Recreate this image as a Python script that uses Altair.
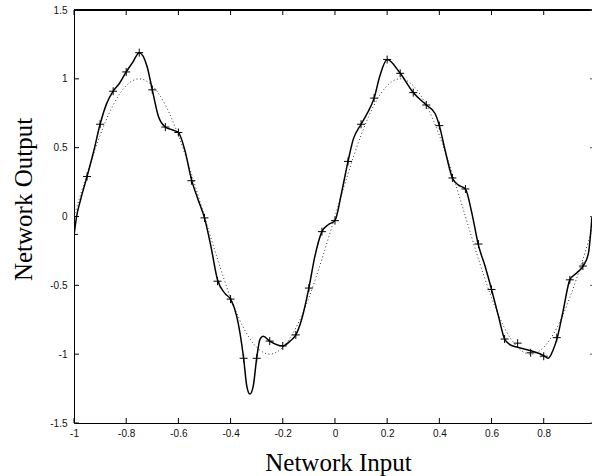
import altair as alt
import pandas as pd

# ---- data ----
# network output (solid curve)
net_x = [-1.0, -0.99, -0.975, -0.95, -0.925, -0.9, -0.875, -0.85, -0.825, -0.8,
         -0.775, -0.75, -0.72, -0.7, -0.677, -0.65, -0.625, -0.6, -0.575, -0.55,
         -0.524, -0.5, -0.475, -0.45, -0.421, -0.4, -0.377, -0.35, -0.338, -0.326,
         -0.313, -0.3, -0.287, -0.275, -0.25, -0.2, -0.172, -0.15, -0.128, -0.1,
         -0.077, -0.05, -0.026, 0.0, 0.025, 0.05, 0.07, 0.1, 0.121, 0.15,
         0.172, 0.2, 0.25, 0.3, 0.35, 0.383, 0.4, 0.421, 0.45, 0.472,
         0.5, 0.524, 0.55, 0.575, 0.6, 0.626, 0.65, 0.67, 0.7, 0.75,
         0.8, 0.817, 0.836, 0.852, 0.875, 0.9, 0.926, 0.951, 0.971, 0.985]
net_y = [-0.14, 0.0, 0.12, 0.29, 0.47, 0.67, 0.82, 0.91, 0.97, 1.05,
         1.12, 1.19, 1.09, 0.92, 0.73, 0.65, 0.63, 0.61, 0.48, 0.27,
         0.12, -0.01, -0.22, -0.46, -0.56, -0.60, -0.72, -1.03, -1.23, -1.29,
         -1.23, -1.03, -0.89, -0.87, -0.905, -0.94, -0.905, -0.86, -0.75, -0.52,
         -0.29, -0.11, -0.06, -0.03, 0.17, 0.40, 0.56, 0.67, 0.74, 0.86,
         1.02, 1.14, 1.04, 0.90, 0.81, 0.75, 0.66, 0.49, 0.28, 0.23,
         0.20, 0.03, -0.21, -0.36, -0.53, -0.72, -0.89, -0.93, -0.95, -0.975,
         -1.01, -1.03, -0.97, -0.88, -0.68, -0.46, -0.41, -0.36, -0.27, 0.0]

# training samples (+ markers)
pts_x = [-1.0, -0.95, -0.9, -0.85, -0.8, -0.75, -0.7, -0.65, -0.6, -0.55,
         -0.5, -0.45, -0.4, -0.35, -0.3, -0.25, -0.2, -0.15, -0.1, -0.05,
         0.0, 0.05, 0.1, 0.15, 0.2, 0.25, 0.3, 0.35, 0.4, 0.45,
         0.5, 0.55, 0.6, 0.65, 0.7, 0.75, 0.8, 0.85, 0.9, 0.95]
pts_y = [-0.13, 0.29, 0.67, 0.91, 1.05, 1.19, 0.92, 0.65, 0.61, 0.26,
         -0.01, -0.47, -0.60, -1.03, -1.03, -0.905, -0.94, -0.86, -0.52, -0.11,
         -0.03, 0.40, 0.67, 0.86, 1.14, 1.04, 0.90, 0.81, 0.66, 0.28,
         0.20, -0.20, -0.53, -0.89, -0.92, -0.99, -1.015, -0.88, -0.46, -0.36]

# target function (dotted curve)
tgt_x = [-1.0, -0.95, -0.9, -0.85, -0.8, -0.75, -0.7, -0.65, -0.6, -0.55,
         -0.5, -0.45, -0.4, -0.35, -0.3, -0.25, -0.2, -0.15, -0.1, -0.05,
         0.0, 0.05, 0.1, 0.15, 0.2, 0.25, 0.3, 0.35, 0.4, 0.45,
         0.5, 0.55, 0.6, 0.65, 0.7, 0.75, 0.8, 0.85, 0.9, 0.95, 1.0]
tgt_y = [0.0, 0.31, 0.59, 0.81, 0.95, 1.0, 0.95, 0.81, 0.59, 0.31,
         0.0, -0.31, -0.59, -0.81, -0.95, -1.0, -0.95, -0.81, -0.59, -0.31,
         0.0, 0.31, 0.59, 0.81, 0.95, 1.0, 0.95, 0.81, 0.59, 0.31,
         0.0, -0.31, -0.59, -0.81, -0.95, -1.0, -0.95, -0.81, -0.59, -0.31, 0.0]

x_ticks = [-1, -0.8, -0.6, -0.4, -0.2, 0, 0.2, 0.4, 0.6, 0.8]
y_ticks = [-1.5, -1, -0.5, 0, 0.5, 1, 1.5]

W, H = 518, 413

net_df = pd.DataFrame({"x": net_x, "y": net_y})
pts_df = pd.DataFrame({"x": pts_x, "y": pts_y})
tgt_df = pd.DataFrame({"x": tgt_x, "y": tgt_y})
xt_df = pd.DataFrame({"v": x_ticks})
yt_df = pd.DataFrame({"v": y_ticks})

xscale = alt.Scale(domain=[-1, 0.985], nice=False, zero=False)
yscale = alt.Scale(domain=[-1.5, 1.5], nice=False, zero=False)

x_axis = alt.Axis(
    values=x_ticks, labelExpr="'' + datum.value", grid=False, ticks=False, tickSize=0,
    labelPadding=5, labelFont="Liberation Sans", labelFontSize=10, labelColor="#111",
    domainColor="black", domainWidth=1, labelOverlap=False, labelFlush=False,
    title="Network Input", titleFont="Liberation Serif", titleFontSize=25,
    titleFontWeight="normal", titleColor="black", titleX=264, titleY=47,
    titleAlign="center", titleBaseline="alphabetic",
)
y_axis = alt.Axis(
    values=y_ticks, labelExpr="'' + datum.value", grid=False, ticks=False, tickSize=0,
    labelPadding=7, labelFont="Liberation Sans", labelFontSize=10, labelColor="#111",
    domainColor="black", domainWidth=1, labelOverlap=False, labelFlush=False,
    title="Network Output", titleFont="Liberation Serif", titleFontSize=25,
    titleFontWeight="normal", titleColor="black", titleX=-51, titleY=189,
    titleAngle=270, titleAlign="center", titleBaseline="middle",
)

target = alt.Chart(tgt_df).mark_line(
    color="#333", strokeWidth=1, strokeDash=[1, 2.5], interpolate="monotone", clip=True
).encode(
    x=alt.X("x:Q", scale=xscale, axis=x_axis),
    y=alt.Y("y:Q", scale=yscale, axis=y_axis),
)

net = alt.Chart(net_df).mark_line(
    color="black", strokeWidth=1.5, interpolate="monotone", clip=True
).encode(x="x:Q", y="y:Q")

marks = alt.Chart(pts_df).mark_point(
    shape="M-1,0H1M0,-1V1", size=64, filled=False, color="black",
    strokeWidth=1, opacity=1, clip=True
).encode(x="x:Q", y="y:Q")

top_line = alt.Chart(xt_df).mark_rule(color="black", strokeWidth=1).encode(
    x=alt.value(0), x2=alt.value(W), y=alt.value(0)
)
bottom_ticks = alt.Chart(xt_df).mark_rule(color="black", strokeWidth=1).encode(
    x="v:Q", y=alt.value(H), y2=alt.value(H - 5)
)
top_ticks = alt.Chart(xt_df).mark_rule(color="black", strokeWidth=1).encode(
    x="v:Q", y=alt.value(0), y2=alt.value(5)
)
left_ticks = alt.Chart(yt_df).mark_rule(color="black", strokeWidth=1).encode(
    y="v:Q", x=alt.value(0), x2=alt.value(5)
)
right_ticks = alt.Chart(yt_df).mark_rule(color="#555", strokeWidth=1).encode(
    y="v:Q", x=alt.value(W - 2), x2=alt.value(W)
)

chart = alt.layer(
    target, net, marks, top_line, bottom_ticks, top_ticks, left_ticks, right_ticks
).properties(
    width=W, height=H,
    autosize="none",
    padding={"left": 74, "top": 10, "right": 0, "bottom": 53},
    background="white",
).configure_view(stroke=None)

chart.save("out.html", embed_options={"renderer": "svg", "actions": False})
